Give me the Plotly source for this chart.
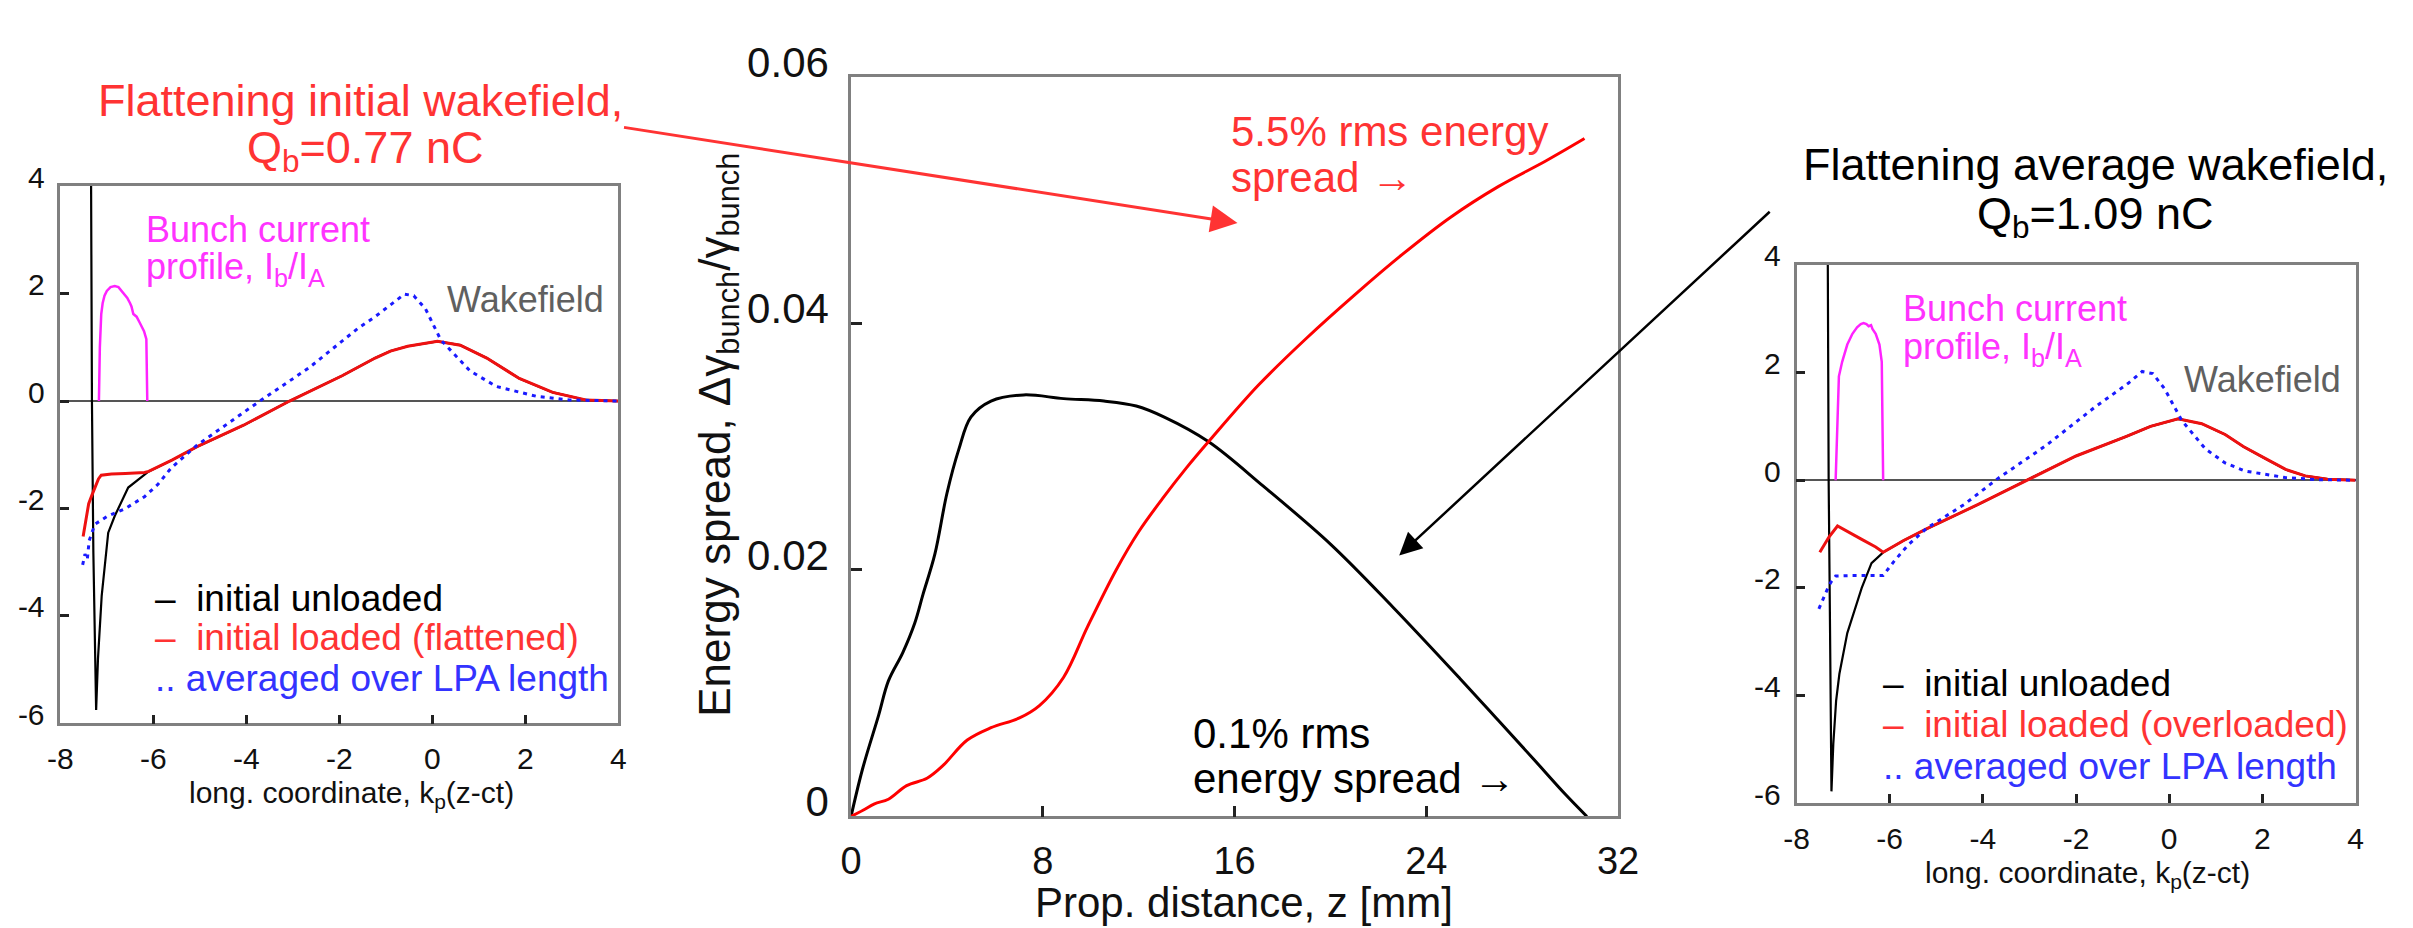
import plotly.graph_objects as go

W, H = 2413, 928
FONT = "Arial, Liberation Sans, sans-serif"

# ---------------- left panel: flattening the initial wakefield ----------------
left_spike_k = [-7.34, -7.32, -7.29, -7.26, -7.23, -7.19, -7.11, -6.97, -6.83, -6.54, -6.19]
left_spike_w = [4.4, 0.0, -2.8, -4.6, -5.75, -4.79, -3.62, -2.45, -2.14, -1.61, -1.38]

left_loaded_k = [-7.51, -7.45, -7.39, -7.32, -7.25, -7.18, -7.12, -6.9, -6.6, -6.3, -6.19, -6.1,
                 -5.6, -5.06, -4.06, -3.07, -2.5, -1.94, -1.23, -0.9, -0.53, 0.11, 0.6, 1.17,
                 1.87, 2.59, 3.3, 4.0]
left_loaded_w = [-2.52, -2.2, -1.91, -1.75, -1.61, -1.45, -1.38, -1.36, -1.35, -1.34, -1.33, -1.31,
                 -1.1, -0.85, -0.45, 0.0, 0.24, 0.47, 0.8, 0.93, 1.02, 1.11, 1.04, 0.8,
                 0.42, 0.16, 0.02, 0.0]

left_avg_k = [-7.52, -7.47, -7.42, -7.38, -7.3, -7.25, -7.0, -6.6, -6.19, -5.9, -5.62, -5.06,
              -4.4, -3.71, -2.65, -1.59, -1.23, -0.88, -0.6, -0.4, -0.15, 0.18, 0.5, 0.81,
              1.38, 2.23, 2.94, 4.0]
left_avg_w = [-3.05, -2.85, -2.95, -2.6, -2.4, -2.29, -2.15, -2.0, -1.78, -1.55, -1.25, -0.82,
              -0.42, 0.0, 0.62, 1.36, 1.57, 1.8, 1.99, 1.96, 1.72, 1.14, 0.84, 0.56,
              0.27, 0.09, 0.02, 0.0]

left_bunch_k = [-7.17, -7.15, -7.12, -7.09, -7.05, -7.0, -6.92, -6.83, -6.75, -6.69, -6.62, -6.56,
                -6.5, -6.47, -6.43, -6.4, -6.36, -6.3, -6.26, -6.2, -6.15, -6.14, -6.13]
left_bunch_w = [0.0, 1.0, 1.62, 1.82, 1.96, 2.05, 2.12, 2.14, 2.12, 2.06, 1.98, 1.92,
                1.82, 1.76, 1.62, 1.6, 1.57, 1.47, 1.4, 1.3, 1.15, 0.6, 0.0]

# ---------------- right panel: flattening the average wakefield ----------------
right_spike_k = [-7.33, -7.31, -7.28, -7.25, -7.21, -7.15, -7.08, -6.91, -6.6, -6.39, -6.14]
right_spike_w = [4.4, 0.0, -2.8, -5.78, -4.9, -4.1, -3.6, -2.84, -2.0, -1.54, -1.34]

right_loaded_k = [-7.5, -7.3, -7.12, -6.9, -6.6, -6.3, -6.14, -5.7, -5.2, -4.1, -3.06, -2.0,
                  -0.93, -0.4, 0.19, 0.7, 1.2, 1.6, 2.07, 2.5, 2.92, 3.4, 4.0]
right_loaded_w = [-1.34, -1.05, -0.85, -0.95, -1.1, -1.24, -1.34, -1.12, -0.9, -0.45, 0.0, 0.45,
                  0.81, 1.0, 1.14, 1.05, 0.85, 0.62, 0.4, 0.2, 0.08, 0.02, 0.0]

right_avg_k = [-7.52, -7.45, -7.38, -7.3, -7.25, -7.16, -6.8, -6.4, -6.14, -5.9, -5.6, -5.2,
               -4.4, -3.68, -2.65, -1.59, -1.23, -0.88, -0.58, -0.35, -0.1, 0.27, 0.78, 1.2,
               1.63, 2.49, 3.2, 4.0]
right_avg_w = [-2.39, -2.25, -2.1, -1.95, -1.88, -1.78, -1.77, -1.77, -1.77, -1.5, -1.2, -0.89,
               -0.45, 0.03, 0.64, 1.36, 1.58, 1.8, 2.02, 1.98, 1.7, 1.11, 0.58, 0.32,
               0.17, 0.05, 0.01, 0.0]

right_bunch_k = [-7.16, -7.12, -7.09, -7.02, -6.91, -6.8, -6.7, -6.62, -6.56, -6.5, -6.45, -6.4,
                 -6.37, -6.3, -6.22, -6.17, -6.15, -6.14]
right_bunch_w = [0.0, 1.3, 1.93, 2.2, 2.52, 2.72, 2.84, 2.9, 2.92, 2.9, 2.86, 2.88,
                 2.81, 2.72, 2.52, 2.2, 1.2, 0.0]

# ---------------- middle panel: energy spread along the LPA ----------------
z_unloaded = [0.0, 0.48, 1.15, 1.56, 2.16, 2.66, 3.0, 3.5, 4.0, 4.5, 5.0, 5.84, 7.2, 8.87,
              10.55, 11.9, 13.07, 14.92, 17.2, 20.0, 22.6, 25.4, 27.0, 28.5, 29.8, 30.7]
spread_unloaded = [0.0, 0.00385, 0.0082, 0.011, 0.0133, 0.0157, 0.018, 0.0213, 0.0262, 0.0298,
                   0.0324, 0.0337, 0.0342, 0.0339, 0.0337, 0.0333, 0.0324, 0.0304, 0.0268,
                   0.0221, 0.0170, 0.0112, 0.0078, 0.0046, 0.0018, 0.0]

z_loaded = [0.0, 0.5, 0.98, 1.56, 2.32, 3.17, 3.82, 4.85, 5.84, 7.03, 7.86, 8.87, 9.87, 11.06,
            12.0, 13.0, 14.0, 15.0, 17.0, 19.0, 21.0, 23.0, 25.0, 27.0, 29.0, 30.6]
spread_loaded = [0.0, 0.0005, 0.00103, 0.0014, 0.0025, 0.0031, 0.0041, 0.0062, 0.0072, 0.008,
                 0.009, 0.0113, 0.0154, 0.02, 0.0231, 0.0258, 0.0283, 0.0306, 0.035, 0.0388,
                 0.0423, 0.0456, 0.0486, 0.0511, 0.0532, 0.055]

# tick labels
k_ticks = [-8, -6, -4, -2, 0, 2, 4]
k_ticktext = ["-8", "-6", "-4", "-2", "0", "2", "4"]
w_ticks = [-6, -4, -2, 0, 2, 4]
w_ticktext = ["-6", "-4", "-2", "0", "2", "4"]
z_ticks = [0, 8, 16, 24, 32]
z_ticktext = ["0", "8", "16", "24", "32"]
s_ticks = [0, 0.02, 0.04, 0.06]
s_ticktext = ["0", "0.02", "0.04", "0.06"]


def tail(ks, ws, k0):
    pairs = [(k, w) for k, w in zip(ks, ws) if k > k0]
    return [p[0] for p in pairs], [p[1] for p in pairs]


fig = go.Figure()

RED = "#ee1111"
BLUE = "#1a1aff"
MAG = "#ff22ff"
DOT = "4px,5px"

# left panel traces
lk, lw = tail(left_loaded_k, left_loaded_w, -6.19)
fig.add_trace(go.Scatter(x=left_bunch_k, y=left_bunch_w, mode="lines",
                         line=dict(color=MAG, width=2.5), xaxis="x", yaxis="y"))
fig.add_trace(go.Scatter(x=left_spike_k + lk, y=left_spike_w + lw, mode="lines",
                         line=dict(color="black", width=2.2), xaxis="x", yaxis="y"))
fig.add_trace(go.Scatter(x=left_loaded_k, y=left_loaded_w, mode="lines",
                         line=dict(color=RED, width=3), xaxis="x", yaxis="y"))
fig.add_trace(go.Scatter(x=left_avg_k, y=left_avg_w, mode="lines",
                         line=dict(color=BLUE, width=3, dash=DOT), xaxis="x", yaxis="y"))

# middle panel traces
fig.add_trace(go.Scatter(x=z_unloaded, y=spread_unloaded, mode="lines", line_shape="spline",
                         line=dict(color="black", width=3), xaxis="x2", yaxis="y2"))
fig.add_trace(go.Scatter(x=z_loaded, y=spread_loaded, mode="lines", line_shape="spline",
                         line=dict(color="#ff0000", width=3), xaxis="x2", yaxis="y2"))

# right panel traces
rk, rw = tail(right_loaded_k, right_loaded_w, -6.14)
fig.add_trace(go.Scatter(x=right_bunch_k, y=right_bunch_w, mode="lines",
                         line=dict(color=MAG, width=2.5), xaxis="x3", yaxis="y3"))
fig.add_trace(go.Scatter(x=right_spike_k + rk, y=right_spike_w + rw, mode="lines",
                         line=dict(color="black", width=2.2), xaxis="x3", yaxis="y3"))
fig.add_trace(go.Scatter(x=right_loaded_k, y=right_loaded_w, mode="lines",
                         line=dict(color=RED, width=3), xaxis="x3", yaxis="y3"))
fig.add_trace(go.Scatter(x=right_avg_k, y=right_avg_w, mode="lines",
                         line=dict(color=BLUE, width=3, dash=DOT), xaxis="x3", yaxis="y3"))


def dom_x(a, b):
    return [a / W, b / W]


def dom_y(top, bottom):
    return [1 - bottom / H, 1 - top / H]


axis_common = dict(showline=True, linecolor="#808080", linewidth=2.5, mirror=True,
                   ticks="inside", tickcolor="#222222", tickwidth=2.5, showgrid=False,
                   zeroline=False)

wake_x = dict(axis_common, range=[-8, 4], tickvals=k_ticks, ticktext=k_ticktext, ticklen=9,
              tickfont=dict(family=FONT, size=30, color="#111111"), ticklabelstandoff=7)
wake_y = dict(axis_common, range=[-6, 4], tickvals=w_ticks, ticktext=w_ticktext, ticklen=9,
              tickfont=dict(family=FONT, size=30, color="#111111"), ticklabelstandoff=7,
              ticklabelshift=-9, zeroline=True, zerolinecolor="#555555", zerolinewidth=2)

fig.update_layout(
    width=W, height=H, margin=dict(l=0, r=0, t=0, b=0),
    paper_bgcolor="white", plot_bgcolor="white", showlegend=False,
    xaxis=dict(wake_x, domain=dom_x(48, 614), anchor="y"),
    yaxis=dict(wake_y, domain=dom_y(156, 722), anchor="x"),
    xaxis2=dict(axis_common, domain=dom_x(850, 1628), anchor="y2", range=[0, 32],
                tickvals=z_ticks, ticktext=z_ticktext, ticklen=11,
                tickfont=dict(family=FONT, size=38, color="#111111"), ticklabelstandoff=9),
    yaxis2=dict(axis_common, domain=dom_y(41, 820), anchor="x2", range=[0, 0.06],
                tickvals=s_ticks, ticktext=s_ticktext, ticklen=11,
                tickfont=dict(family=FONT, size=42, color="#111111"), ticklabelstandoff=11,
                ticklabelshift=-15),
    xaxis3=dict(wake_x, domain=dom_x(1809, 2376), anchor="y3"),
    yaxis3=dict(wake_y, domain=dom_y(239, 806), anchor="x3"),
)


def note(text, x, y, size, color, xanchor="left", angle=0):
    return dict(text=text, x=x / W, y=1 - y / H, xref="paper", yref="paper",
                xanchor=xanchor, yanchor="middle", showarrow=False, textangle=angle,
                font=dict(family=FONT, size=size, color=color))


TXT_RED = "#ff3333"
TXT_BLUE = "#3333ff"
TXT_MAG = "#ff33ff"
GRAY = "#606060"
SP = "\u00a0\u00a0"

notes = [
    # headings
    note("Flattening initial wakefield,", 352, 66, 45, TXT_RED, "center"),
    note("Q<sub>b</sub>=0.77 nC", 357, 119, 45, TXT_RED, "center"),
    note("Flattening average wakefield,", 2112, 133, 45, "black", "center"),
    note("Q<sub>b</sub>=1.09 nC", 2112, 188, 45, "black", "center"),
    # middle panel
    note("5.5% rms energy", 1233, 98, 42, TXT_RED),
    note("spread \u2192", 1233, 147, 42, TXT_RED),
    note("0.1% rms", 1195, 733, 42, "black"),
    note("energy spread \u2192", 1195, 780, 42, "black"),
    note("Prop. distance, z [mm]", 1249, 911, 42, "#111111", "center"),
    note("Energy spread, \u0394\u03b3<sub>bunch</sub>/\u03b3<sub>bunch</sub>", 715, 418, 44,
         "#111111", "center", -90),
    # left panel
    note("Bunch current", 133, 202, 36, TXT_MAG),
    note("profile, I<sub>b</sub>/I<sub>A</sub>", 133, 243, 36, TXT_MAG),
    note("Wakefield", 438, 275, 36, GRAY),
    note("\u2013" + SP + "initial unloaded", 142, 590, 37, "black"),
    note("\u2013" + SP + "initial loaded (flattened)", 142, 632, 37, TXT_RED),
    note(".. averaged over LPA length", 142, 675, 37, TXT_BLUE),
    note("long. coordinate, k<sub>p</sub>(z-ct)", 343, 797, 30, "#111111", "center"),
    # right panel
    note("Bunch current", 1915, 285, 36, TXT_MAG),
    note("profile, I<sub>b</sub>/I<sub>A</sub>", 1915, 328, 36, TXT_MAG),
    note("Wakefield", 2200, 360, 36, GRAY),
    note("\u2013" + SP + "initial unloaded", 1895, 680, 37, "black"),
    note("\u2013" + SP + "initial loaded (overloaded)", 1895, 723, 37, TXT_RED),
    note(".. averaged over LPA length", 1895, 767, 37, TXT_BLUE),
    note("long. coordinate, k<sub>p</sub>(z-ct)", 2104, 881, 30, "#111111", "center"),
]

# pointer arrows from the headings into the middle panel
notes.append(dict(text="", x=1242 / W, y=1 - 195 / H, xref="paper", yref="paper",
                  showarrow=True, ax=627 - 1242, ay=99 - 195, axref="pixel", ayref="pixel",
                  arrowcolor=TXT_RED, arrowwidth=3, arrowhead=2, arrowsize=1.8, standoff=0))
notes.append(dict(text="", x=1406 / W, y=1 - 545 / H, xref="paper", yref="paper",
                  showarrow=True, ax=1778 - 1406, ay=200 - 545, axref="pixel", ayref="pixel",
                  arrowcolor="black", arrowwidth=2.5, arrowhead=2, arrowsize=1.8, standoff=0))

fig.update_layout(annotations=notes)
fig.write_html("out.html")
